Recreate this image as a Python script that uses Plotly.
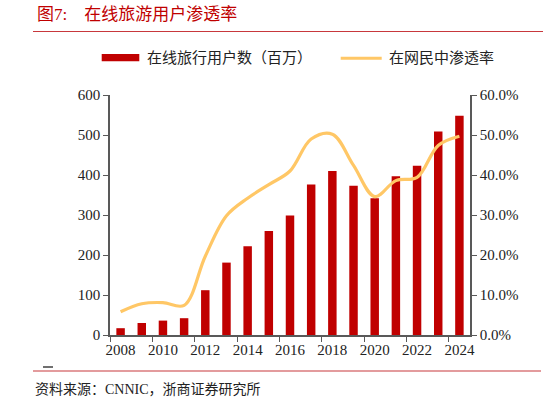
import plotly.graph_objects as go

# Online travel users (millions) and penetration among internet users
years = [str(y) for y in range(2008, 2025)]
users_mn = [17, 30, 36, 42, 112, 181, 222, 260, 299, 376, 410, 373, 342, 397, 423, 509, 548]
penetration = [0.058, 0.078, 0.081, 0.074, 0.197, 0.298, 0.342, 0.376, 0.410, 0.490, 0.502,
               0.424, 0.346, 0.386, 0.394, 0.474, 0.497]

bar_name = "在线旅行用户数（百万）"
line_name = "在网民中渗透率"
title_text = "图7:    在线旅游用户渗透率"
source_text = "资料来源：CNNIC，浙商证券研究所"

BAR_RED = "#C00000"
LINE_ORANGE = "#FFC766"
AXIS_GREY = "#595959"
FONT = "Liberation Serif, Noto Sans CJK SC, serif"

W, H = 548, 402
L, R, T, B = 110, 78, 95, 67
PW, PH = W - L - R, H - T - B


def px(x):
    return (x - L) / PW


def py(y):
    return (H - B - y) / PH


fig = go.Figure()
fig.add_trace(go.Bar(x=years, y=users_mn, name=bar_name, marker_color=BAR_RED,
                     marker_line_width=0, yaxis="y"))
fig.add_trace(go.Scatter(x=years, y=penetration, name=line_name, mode="lines",
                         line=dict(color=LINE_ORANGE, width=3.2, shape="spline", smoothing=1.0),
                         yaxis="y2"))

axis_common = dict(showgrid=False, zeroline=False, showline=True, linecolor=AXIS_GREY,
                   linewidth=1.5, ticks="outside", ticklen=5, tickwidth=1.2,
                   tickcolor=AXIS_GREY, tickfont=dict(family=FONT, size=15, color="#222"))

fig.update_layout(
    width=W, height=H, margin=dict(l=L, r=R, t=T, b=B),
    paper_bgcolor="white", plot_bgcolor="white",
    showlegend=False, bargap=0.6,
    font=dict(family=FONT, size=15, color="#222"),
    xaxis=dict(type="category", tickmode="linear", tick0=0, dtick=2, tickangle=0,
               tickson="boundaries", **axis_common),
    yaxis=dict(range=[0, 600], dtick=100, **axis_common),
    yaxis2=dict(range=[0, 0.6], dtick=0.1, tickformat=".1%", overlaying="y",
                side="right", **axis_common),
)

shapes = [
    # legend swatches
    dict(type="rect", xref="paper", yref="paper", x0=px(101.7), x1=px(139.3),
         y0=py(61.3), y1=py(54), fillcolor=BAR_RED, line_width=0),
    dict(type="line", xref="paper", yref="paper", x0=px(340.7), x1=px(381.7),
         y0=py(58.3), y1=py(58.3), line=dict(color=LINE_ORANGE, width=3)),
    # header / footer rules
    dict(type="line", xref="paper", yref="paper", x0=px(33), x1=px(543),
         y0=py(31.5), y1=py(31.5), line=dict(color="#C8383C", width=1.2)),
    dict(type="line", xref="paper", yref="paper", x0=px(33), x1=px(541),
         y0=py(371), y1=py(371), line=dict(color="#C8383C", width=1.2)),
    dict(type="line", xref="paper", yref="paper", x0=px(43), x1=px(53),
         y0=py(367), y1=py(367), line=dict(color="#222", width=1.3)),
]

annotations = [
    dict(text=title_text, xref="paper", yref="paper", x=px(35), y=py(14),
         xanchor="left", yanchor="middle", showarrow=False,
         font=dict(family=FONT, size=17, color="#C00000")),
    dict(text=bar_name, xref="paper", yref="paper", x=px(145), y=py(58),
         xanchor="left", yanchor="middle", showarrow=False,
         font=dict(family=FONT, size=15, color="#222")),
    dict(text=line_name, xref="paper", yref="paper", x=px(386.7), y=py(58),
         xanchor="left", yanchor="middle", showarrow=False,
         font=dict(family=FONT, size=15, color="#222")),
    dict(text=source_text, xref="paper", yref="paper", x=px(33), y=py(389),
         xanchor="left", yanchor="middle", showarrow=False,
         font=dict(family=FONT, size=14, color="#222")),
]

fig.update_layout(shapes=shapes, annotations=annotations)
fig.write_html("out.html")
